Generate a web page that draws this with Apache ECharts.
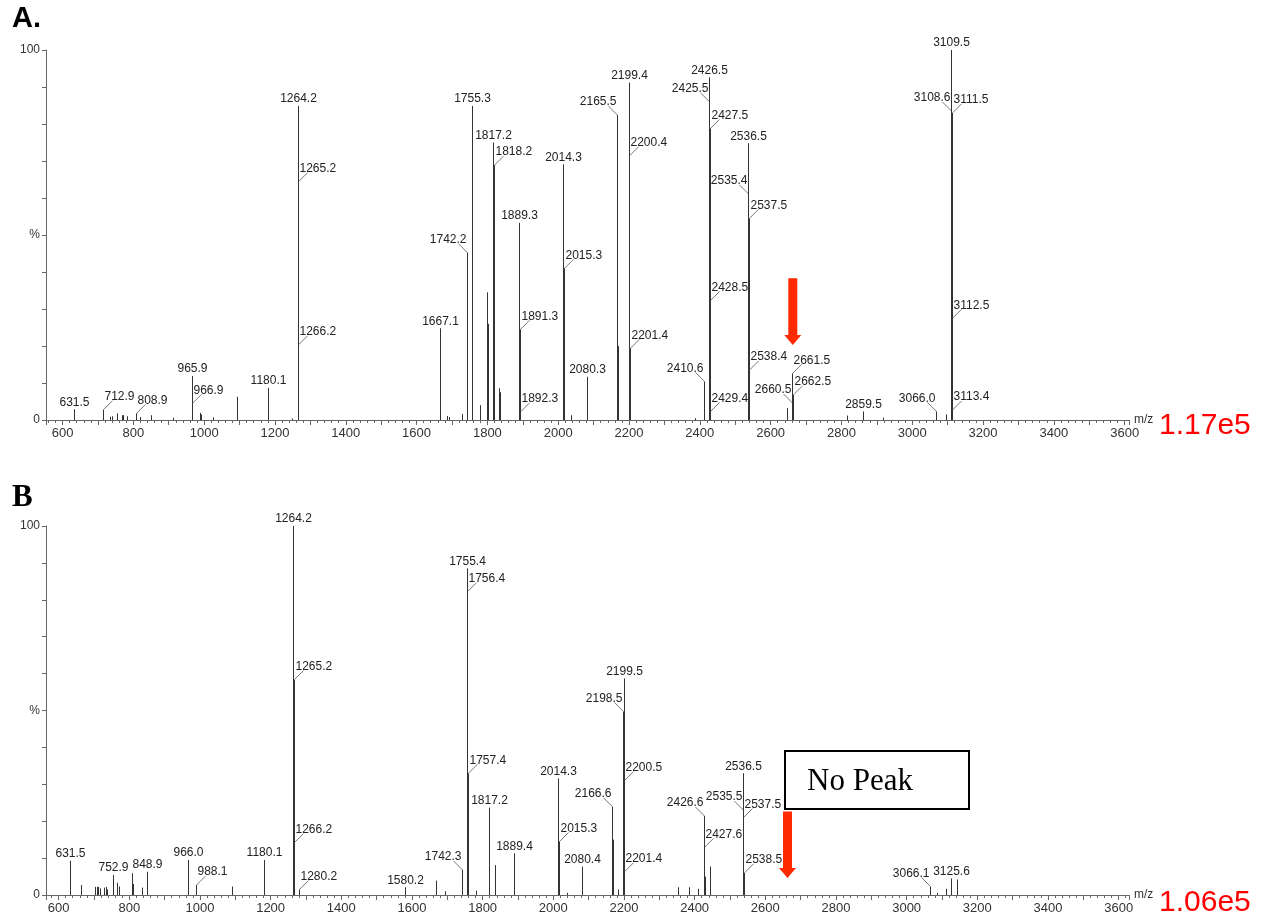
<!DOCTYPE html>
<html>
<head>
<meta charset="utf-8">
<script src="https://cdn.jsdelivr.net/npm/echarts@6/dist/echarts.min.js"></script>
<style>
  html, body { margin: 0; padding: 0; background: #ffffff; }
  #chart { width: 1267px; height: 918px; }
</style>
</head>
<body>
<div id="chart"></div>
<script>
// ---------- Spectrum A: labelled peaks ----------
// m/z, relative intensity (%), label placement: c = above, r = leader to the right, l = leader to the left
const labMzA  = [631.5, 712.9, 808.9, 965.9, 966.9, 1180.1, 1264.2, 1265.2, 1266.2,
                 1667.1, 1742.2, 1755.3, 1817.2, 1818.2, 1889.3, 1891.3, 1892.3,
                 2014.3, 2015.3, 2080.3, 2165.5, 2199.4, 2200.4, 2201.4,
                 2410.6, 2425.5, 2426.5, 2427.5, 2428.5, 2429.4,
                 2535.4, 2536.5, 2537.5, 2538.4, 2660.5, 2661.5, 2662.5,
                 2859.5, 3066.0, 3108.6, 3109.5, 3111.5, 3112.5, 3113.4];
const labIntA = [2.9, 2.8, 1.8, 11.9, 4.5, 8.7, 84.9, 64.4, 20.3,
                 24.8, 45.2, 84.9, 75.0, 68.9, 53.3, 24.5, 2.2,
                 69.1, 41.0, 11.7, 82.4, 91.2, 71.4, 19.4,
                 10.4, 86.0, 92.6, 78.8, 32.3, 2.3,
                 61.1, 74.8, 54.5, 13.5, 4.6, 12.6, 6.8,
                 2.3, 2.3, 83.5, 100, 83.0, 27.5, 2.7];
const labPosA = ['c', 'r', 'r', 'c', 'r', 'c', 'c', 'r', 'r',
                 'c', 'l', 'c', 'c', 'r', 'c', 'r', 'r',
                 'c', 'r', 'c', 'l', 'c', 'r', 'r',
                 'l', 'l', 'c', 'r', 'r', 'r',
                 'l', 'c', 'r', 'r', 'l', 'r', 'r',
                 'c', 'l', 'l', 'c', 'r', 'r', 'r'];
// unlabelled peaks of spectrum A
const minMzA  = [734, 739, 754.6, 767, 770, 782.9, 818.8, 849.8, 912.8, 988.2, 991.9, 1025.8,
                 1091.9, 1093, 1249, 1685, 1691.5, 1727.4, 1756.3, 1780, 1799.7, 1800.7,
                 1819.2, 1833.6, 1834.6, 1890.3, 2035.3, 2081.3, 2166.5, 2167.5, 2386.4,
                 2411.6, 2645.4, 2815, 2918, 3094.5, 3110.5];
const minIntA = [0.9, 1.0, 1.8, 1.3, 1.3, 1.0, 0.8, 1.3, 0.6, 1.9, 1.5, 0.7,
                 6.3, 3.0, 0.4, 1.1, 0.8, 1.6, 44, 4.0, 34.5, 26,
                 41, 8.6, 7.5, 42, 1.3, 7.0, 46, 20, 0.5,
                 5.0, 3.2, 1.2, 0.6, 1.5, 95];

// ---------- Spectrum B: labelled peaks ----------
const labMzB  = [631.5, 752.9, 848.9, 966.0, 988.1, 1180.1, 1264.2, 1265.2, 1266.2, 1280.2,
                 1580.2, 1742.3, 1755.4, 1756.4, 1757.4, 1817.2, 1889.4,
                 2014.3, 2015.3, 2080.4, 2166.6, 2198.5, 2199.5, 2200.5, 2201.4,
                 2426.6, 2427.6, 2535.5, 2536.5, 2537.5, 2538.5, 3066.1, 3125.6];
const labIntB = [9.3, 5.4, 6.3, 9.5, 2.7, 9.5, 100, 58.4, 14.2, 1.5,
                 2.1, 6.8, 88.5, 82.2, 33.0, 23.7, 11.3,
                 31.6, 14.5, 7.7, 23.9, 49.7, 58.7, 31.0, 6.3,
                 21.4, 12.9, 23.0, 33.0, 21.0, 6.0, 2.3, 4.5];
const labPosB = ['c', 'c', 'c', 'c', 'r', 'c', 'c', 'r', 'r', 'r',
                 'c', 'l', 'c', 'r', 'r', 'c', 'c',
                 'c', 'r', 'c', 'l', 'l', 'c', 'r', 'r',
                 'l', 'r', 'l', 'c', 'r', 'r', 'l', 'c'];
// unlabelled peaks of spectrum B
const minMzB  = [663.4, 703, 707.8, 712.3, 717.1, 728.4, 734, 737.8, 766.1, 770, 808.5, 811.4,
                 835.2, 1091.6, 1667.2, 1693.5, 1781.3, 1818.2, 1835, 1836, 2038, 2081.4,
                 2165.6, 2167.6, 2184, 2353.8, 2383.2, 2410.4, 2428.6, 2443.5, 2444.5,
                 3085, 3110.5, 3141.7];
const minIntB = [2.7, 2.2, 2.2, 2.2, 1.8, 2.0, 2.2, 1.5, 3.3, 2.3, 5.9, 3.0,
                 2.0, 2.3, 3.9, 1.0, 1.2, 12, 8.1, 5.0, 0.6, 4.0,
                 12, 15, 1.5, 2.1, 2.1, 1.7, 5.0, 7.7, 5.0,
                 0.6, 1.7, 4.2];

// ---------- axes ----------
const xTickLabels = ['600', '800', '1000', '1200', '1400', '1600', '1800', '2000', '2200',
                     '2400', '2600', '2800', '3000', '3200', '3400', '3600'];
const yTickLabels = { 0: '0', 50: '%', 100: '100' };
const xRangeA = [553.3, 3612.2];
const xRangeB = [564.3, 3629.3];

// ---------- annotations ----------
const arrowA = [2662.6, 38.3, 20.3];   // m/z, tail intensity, tip intensity
const arrowB = [2662.8, 22.6, 4.6];
const scaleA = '1.17e5';
const scaleB = '1.06e5';

const POS_CODE = { c: 1, r: 2, l: 3 };
function buildPeaks(minMz, minInt, labMz, labInt, labPos) {
  const out = [];
  minMz.forEach((m, i) => out.push([m, minInt[i], 0]));
  labMz.forEach((m, i) => out.push([m, labInt[i], POS_CODE[labPos[i]]]));
  return out;
}

const LABEL_FONT = '12px "Liberation Sans", Arial, sans-serif';
const STEM = '#333333';
const LEADER = '#555555';

function renderPeak(params, api) {
  const mz = api.value(0);
  const h = api.value(1);
  const code = api.value(2);
  const base = api.coord([mz, 0]);
  const top = api.coord([mz, h]);
  const x = Math.round(base[0]) + 0.5;
  const ty = top[1];
  const children = [{
    type: 'line',
    shape: { x1: x, y1: base[1], x2: x, y2: ty },
    style: { stroke: STEM, lineWidth: 1 }
  }];
  if (code) {
    const txt = mz.toFixed(1);
    if (code === 1) {
      children.push({
        type: 'text', x: x, y: ty - 1,
        style: { text: txt, font: LABEL_FONT, fill: '#222', align: 'center', verticalAlign: 'bottom' }
      });
    } else {
      const dir = code === 2 ? 1 : -1;
      children.push({
        type: 'line',
        shape: { x1: x, y1: ty, x2: x + dir * 9, y2: ty - 9 },
        style: { stroke: LEADER, lineWidth: 0.8 }
      });
      children.push({
        type: 'text', x: x + dir * 1, y: ty - 7,
        style: { text: txt, font: LABEL_FONT, fill: '#222',
                 align: dir > 0 ? 'left' : 'right', verticalAlign: 'bottom' }
      });
    }
  }
  return { type: 'group', children: children };
}

function renderArrow(params, api) {
  const p0 = api.coord([api.value(0), api.value(1)]);
  const p1 = api.coord([api.value(0), api.value(2)]);
  const cx = p0[0];
  const headH = 10, shaftW = 9, headW = 17;
  const neck = p1[1] - headH;
  return {
    type: 'polygon',
    shape: { points: [
      [cx - shaftW / 2, p0[1]], [cx + shaftW / 2, p0[1]],
      [cx + shaftW / 2, neck], [cx + headW / 2, neck],
      [cx, p1[1]],
      [cx - headW / 2, neck], [cx - shaftW / 2, neck]
    ] },
    style: { fill: '#ff2a00' }
  };
}

function xAxesFor(gridIndex, range) {
  const common = {
    type: 'value', gridIndex: gridIndex, position: 'bottom',
    min: range[0], max: range[1], splitLine: { show: false }
  };
  return [
    // fine ticks every 20 m/z, with the axis line and its name
    Object.assign({}, common, {
      minInterval: 20, maxInterval: 20,
      name: 'm/z', nameLocation: 'end', nameGap: 5,
      nameTextStyle: { color: '#333', fontSize: 12, fontFamily: 'Liberation Sans' },
      axisLine: { show: true, lineStyle: { color: '#666', width: 1 } },
      axisTick: { show: true, length: 3, lineStyle: { color: '#666' } },
      axisLabel: { show: false }
    }),
    // longer ticks every 100 m/z, labels every 200
    Object.assign({}, common, {
      minInterval: 100, maxInterval: 100,
      axisLine: { show: false },
      axisTick: { show: true, length: 5, lineStyle: { color: '#666' } },
      axisLabel: {
        show: true, margin: 7, color: '#333', fontSize: 13, fontFamily: 'Liberation Sans',
        formatter: v => xTickLabels.includes(String(v)) ? String(v) : ''
      }
    })
  ];
}

function yAxisFor(gridIndex) {
  return {
    type: 'value', gridIndex: gridIndex, min: 0, max: 100, interval: 10,
    splitLine: { show: false },
    axisLine: { show: true, lineStyle: { color: '#666', width: 1 } },
    axisTick: { show: true, length: 4, lineStyle: { color: '#666' } },
    axisLabel: {
      show: true, margin: 6, color: '#333', fontSize: 12, fontFamily: 'Liberation Sans',
      formatter: v => (yTickLabels[v] !== undefined ? yTickLabels[v] : '')
    }
  };
}

const chart = echarts.init(document.getElementById('chart'), null, { renderer: 'canvas' });
chart.setOption({
  animation: false,
  backgroundColor: '#ffffff',
  grid: [
    { left: 46, top: 50, width: 1083, height: 370 },
    { left: 46, top: 526, width: 1083, height: 369 }
  ],
  xAxis: xAxesFor(0, xRangeA).concat(xAxesFor(1, xRangeB)),
  yAxis: [yAxisFor(0), yAxisFor(1)],
  series: [
    {
      type: 'custom', name: 'A', xAxisIndex: 0, yAxisIndex: 0, clip: false,
      renderItem: renderPeak,
      data: buildPeaks(minMzA, minIntA, labMzA, labIntA, labPosA)
    },
    {
      type: 'custom', name: 'B', xAxisIndex: 2, yAxisIndex: 1, clip: false,
      renderItem: renderPeak,
      data: buildPeaks(minMzB, minIntB, labMzB, labIntB, labPosB)
    },
    {
      type: 'custom', name: 'arrowA', xAxisIndex: 0, yAxisIndex: 0, clip: false, z: 5,
      renderItem: renderArrow, data: [arrowA]
    },
    {
      type: 'custom', name: 'arrowB', xAxisIndex: 2, yAxisIndex: 1, clip: false, z: 5,
      renderItem: renderArrow, data: [arrowB]
    }
  ],
  graphic: [
    { type: 'text', x: 12, y: 19,
      style: { text: 'A.', font: 'bold 29px "Liberation Sans", Arial, sans-serif', fill: '#000', verticalAlign: 'middle' } },
    { type: 'text', x: 12, y: 498,
      style: { text: 'B', font: 'bold 31px "Liberation Serif", "Times New Roman", serif', fill: '#000', verticalAlign: 'middle' } },
    { type: 'text', x: 1159, y: 426,
      style: { text: scaleA, font: '30px "Liberation Sans", Arial, sans-serif', fill: '#ff0000', verticalAlign: 'middle' } },
    { type: 'text', x: 1159, y: 903,
      style: { text: scaleB, font: '30px "Liberation Sans", Arial, sans-serif', fill: '#ff0000', verticalAlign: 'middle' } },
    { type: 'rect', shape: { x: 785, y: 751, width: 184, height: 58 },
      style: { fill: '#ffffff', stroke: '#000000', lineWidth: 2 } },
    { type: 'text', x: 807, y: 782,
      style: { text: 'No Peak', font: '31px "Liberation Serif", "Times New Roman", serif', fill: '#000', verticalAlign: 'middle' } }
  ]
});
</script>
</body>
</html>
